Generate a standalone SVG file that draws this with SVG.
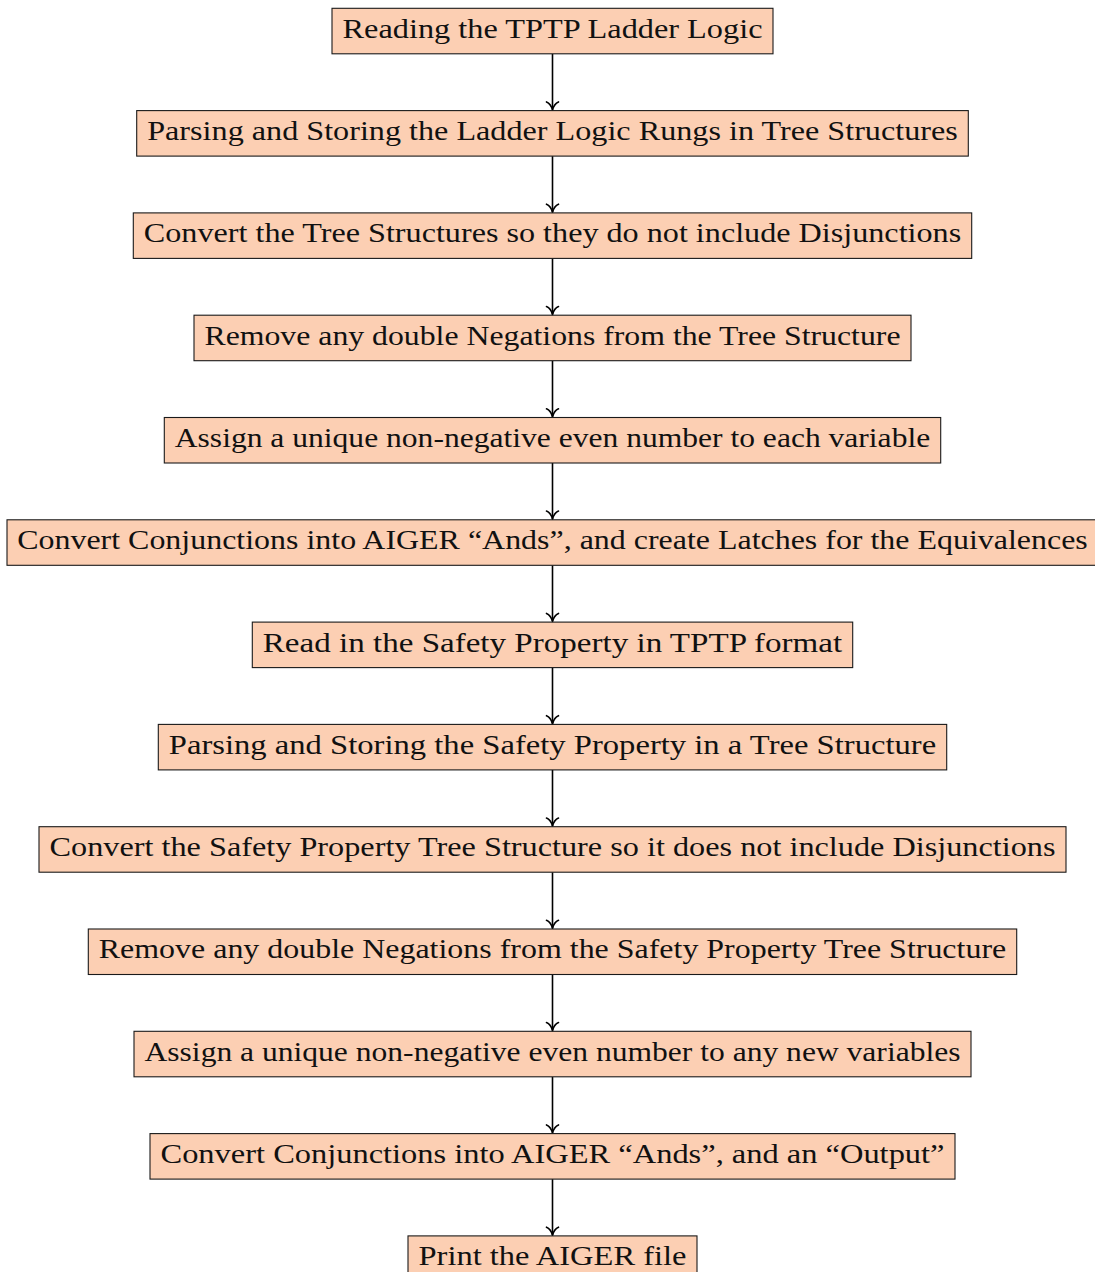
<svg xmlns="http://www.w3.org/2000/svg" width="1095" height="1272" viewBox="0 0 1095 1272">
  <defs>
    <style>
      .box rect { fill: #FCCFB3; stroke: #1a1a1a; stroke-width: 1.1; }
      .box text { font-family: "Liberation Serif", "DejaVu Serif", serif; font-size: 27px; fill: #111; text-anchor: middle; }
      #edges line { stroke: #000; stroke-width: 1.6; marker-end: url(#arrow); }
    </style>
    <marker id="arrow" markerUnits="userSpaceOnUse" markerWidth="16" markerHeight="16" viewBox="-10 -8 12 16" refX="0" refY="0" orient="auto">
      <path d="M-8,-6 C-6.5,-2.2 -2.2,-0.6 0,0 C-2.2,0.6 -6.5,2.2 -8,6" fill="none" stroke="#000" stroke-width="1.6" stroke-linecap="round"/>
    </marker>
  </defs>
  <rect width="1095" height="1272" fill="#fff"/>

  <!-- connectors between consecutive steps -->
  <g id="edges">
    <line x1="552.5" y1="53.8" x2="552.5" y2="109.9"/>
    <line x1="552.5" y1="156.1" x2="552.5" y2="212.2"/>
    <line x1="552.5" y1="258.4" x2="552.5" y2="314.5"/>
    <line x1="552.5" y1="360.7" x2="552.5" y2="416.8"/>
    <line x1="552.5" y1="463.0" x2="552.5" y2="519.1"/>
    <line x1="552.5" y1="565.3" x2="552.5" y2="621.4"/>
    <line x1="552.5" y1="667.6" x2="552.5" y2="723.7"/>
    <line x1="552.5" y1="769.9" x2="552.5" y2="826.0"/>
    <line x1="552.5" y1="872.2" x2="552.5" y2="928.3"/>
    <line x1="552.5" y1="974.5" x2="552.5" y2="1030.6"/>
    <line x1="552.5" y1="1076.8" x2="552.5" y2="1132.9"/>
    <line x1="552.5" y1="1179.1" x2="552.5" y2="1235.2"/>
  </g>

  <g id="n1" class="box">
    <rect x="332" y="8.3" width="441" height="45.5"/>
    <text x="552.5" y="37.7" textLength="420" lengthAdjust="spacingAndGlyphs">Reading the TPTP Ladder Logic</text>
  </g>
  <g id="n2" class="box">
    <rect x="136.7" y="110.6" width="831.6" height="45.5"/>
    <text x="552.5" y="140.0" textLength="810.6" lengthAdjust="spacingAndGlyphs">Parsing and Storing the Ladder Logic Rungs in Tree Structures</text>
  </g>
  <g id="n3" class="box">
    <rect x="133.3" y="212.9" width="838.4" height="45.5"/>
    <text x="552.5" y="242.3" textLength="817.4" lengthAdjust="spacingAndGlyphs">Convert the Tree Structures so they do not include Disjunctions</text>
  </g>
  <g id="n4" class="box">
    <rect x="194" y="315.2" width="717" height="45.5"/>
    <text x="552.5" y="344.6" textLength="696" lengthAdjust="spacingAndGlyphs">Remove any double Negations from the Tree Structure</text>
  </g>
  <g id="n5" class="box">
    <rect x="164.3" y="417.5" width="776.4" height="45.5"/>
    <text x="552.5" y="446.9" textLength="755.4" lengthAdjust="spacingAndGlyphs">Assign a unique non-negative even number to each variable</text>
  </g>
  <g id="n6" class="box">
    <rect x="7" y="519.8" width="1091.6" height="45.5"/>
    <text x="552.5" y="549.2" textLength="1070.6" lengthAdjust="spacingAndGlyphs">Convert Conjunctions into AIGER “Ands”, and create Latches for the Equivalences</text>
  </g>
  <g id="n7" class="box">
    <rect x="252.3" y="622.1" width="600.4" height="45.5"/>
    <text x="552.5" y="651.5" textLength="579.4" lengthAdjust="spacingAndGlyphs">Read in the Safety Property in TPTP format</text>
  </g>
  <g id="n8" class="box">
    <rect x="158.3" y="724.4" width="788.4" height="45.5"/>
    <text x="552.5" y="753.8" textLength="767.4" lengthAdjust="spacingAndGlyphs">Parsing and Storing the Safety Property in a Tree Structure</text>
  </g>
  <g id="n9" class="box">
    <rect x="39" y="826.7" width="1027" height="45.5"/>
    <text x="552.5" y="856.1" textLength="1006" lengthAdjust="spacingAndGlyphs">Convert the Safety Property Tree Structure so it does not include Disjunctions</text>
  </g>
  <g id="n10" class="box">
    <rect x="88.3" y="929.0" width="928.4" height="45.5"/>
    <text x="552.5" y="958.4" textLength="907.4" lengthAdjust="spacingAndGlyphs">Remove any double Negations from the Safety Property Tree Structure</text>
  </g>
  <g id="n11" class="box">
    <rect x="134" y="1031.3" width="837" height="45.5"/>
    <text x="552.5" y="1060.7" textLength="816" lengthAdjust="spacingAndGlyphs">Assign a unique non-negative even number to any new variables</text>
  </g>
  <g id="n12" class="box">
    <rect x="150" y="1133.6" width="805" height="45.5"/>
    <text x="552.5" y="1163.0" textLength="784" lengthAdjust="spacingAndGlyphs">Convert Conjunctions into AIGER “Ands”, and an “Output”</text>
  </g>
  <g id="n13" class="box">
    <rect x="408" y="1235.9" width="289" height="45.5"/>
    <text x="552.5" y="1265.3" textLength="268" lengthAdjust="spacingAndGlyphs">Print the AIGER file</text>
  </g>
</svg>
